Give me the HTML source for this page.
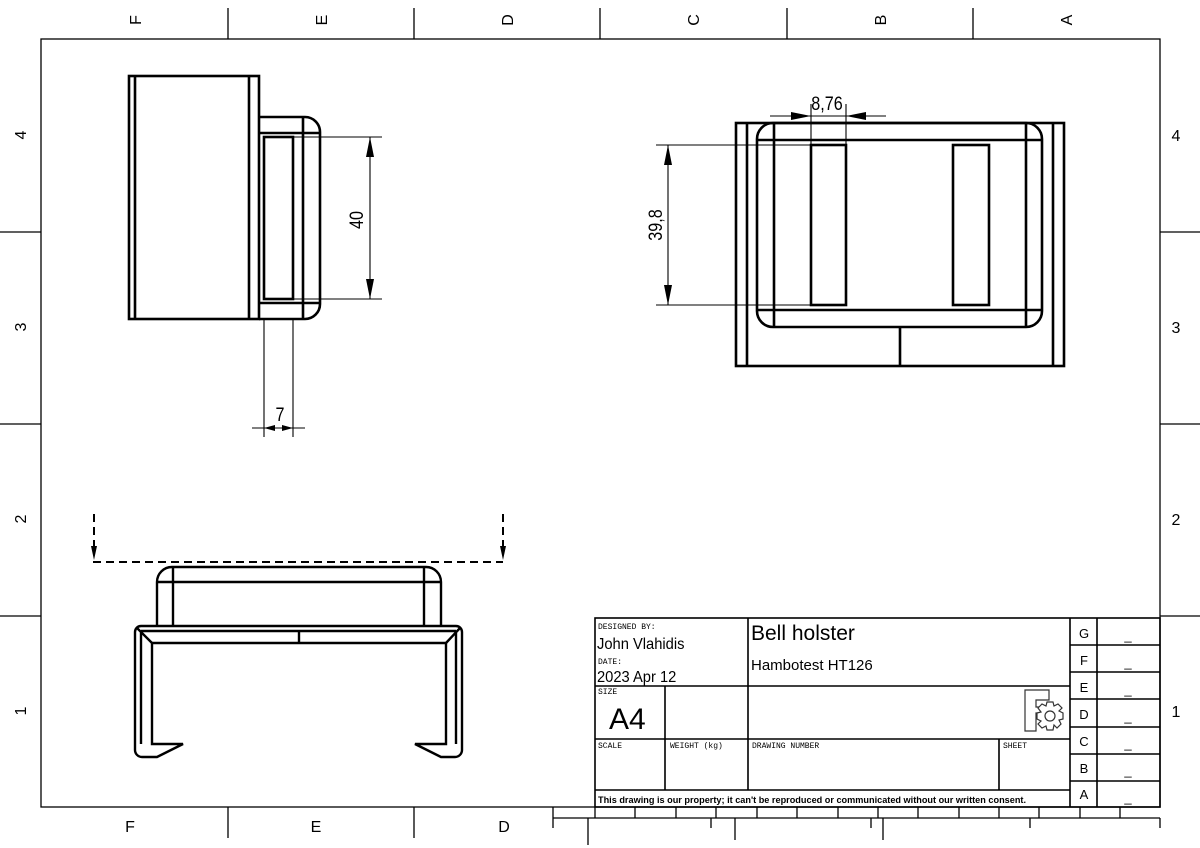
<!DOCTYPE html>
<html><head><meta charset="utf-8"><style>
html,body{margin:0;padding:0;background:#fff;}
svg{display:block;}
text{font-family:"Liberation Sans",sans-serif;fill:#000;}
.m{font-family:"Liberation Mono",monospace;font-size:8px;}
</style></head><body>
<svg width="1200" height="848" viewBox="0 0 1200 848" xmlns="http://www.w3.org/2000/svg">
<g stroke="#000" fill="none" stroke-width="1.3">
<rect x="41" y="39" width="1119" height="768"/>
<path d="M228 8V39M414 8V39M600 8V39M787 8V39M973 8V39"/>
<path d="M228 807V838M414 807V838"/>
<path d="M0 232H41M0 424H41M0 616H41"/>
<path d="M1160 232H1200M1160 424H1200M1160 616H1200"/>
<path d="M553 807V818H1160M553 818V828M588 818V845M711 818V828M735 818V840M871 818V828M883 818V840M1030 818V828M1160 818V828"/>
<path d="M595 807V818M635 807V818M676 807V818M716 807V818M757 807V818M797 807V818M838 807V818M878 807V818M918 807V818M959 807V818M999 807V818M1039 807V818M1080 807V818M1120 807V818"/>
</g>
<g font-size="16">
<text transform="translate(135,20) rotate(-90)" text-anchor="middle" dy="6">F</text>
<text transform="translate(321,20) rotate(-90)" text-anchor="middle" dy="6">E</text>
<text transform="translate(507,20) rotate(-90)" text-anchor="middle" dy="6">D</text>
<text transform="translate(693,20) rotate(-90)" text-anchor="middle" dy="6">C</text>
<text transform="translate(880,20) rotate(-90)" text-anchor="middle" dy="6">B</text>
<text transform="translate(1066,20) rotate(-90)" text-anchor="middle" dy="6">A</text>
<text transform="translate(20,135) rotate(-90)" text-anchor="middle" dy="6">4</text>
<text transform="translate(20,327) rotate(-90)" text-anchor="middle" dy="6">3</text>
<text transform="translate(20,519) rotate(-90)" text-anchor="middle" dy="6">2</text>
<text transform="translate(20,711) rotate(-90)" text-anchor="middle" dy="6">1</text>
<text x="1176" y="141" text-anchor="middle">4</text>
<text x="1176" y="333" text-anchor="middle">3</text>
<text x="1176" y="525" text-anchor="middle">2</text>
<text x="1176" y="717" text-anchor="middle">1</text>
<text x="130" y="832" text-anchor="middle">F</text>
<text x="316" y="832" text-anchor="middle">E</text>
<text x="504" y="832" text-anchor="middle">D</text>
</g>

<g stroke="#000" fill="none" stroke-width="2.6">
<rect x="129" y="76" width="130" height="243"/>
<path d="M135 76V319M249 76V319"/>
<path d="M259 117H305A15 15 0 0 1 320 132V304A15 15 0 0 1 305 319H259"/>
<path d="M259 133H320M259 303H320M303 117V319"/>
<rect x="264" y="137" width="29" height="162"/>
</g>
<g stroke="#000" fill="none" stroke-width="1.1">
<path d="M293 137H382M293 299H382M370 137V299"/>
<path d="M264 319V437M293 319V437M252 428H305"/>
</g>
<path d="M370 137L366 157H374Z M370 299L366 279H374Z" fill="#000"/>
<path d="M264 428L275 425V431Z M293 428L282 425V431Z" fill="#000"/>
<text transform="translate(363,220) rotate(-90) scale(0.85,1)" text-anchor="middle" font-size="19">40</text>
<text transform="translate(280,421) scale(0.85,1)" text-anchor="middle" font-size="19">7</text>

<g stroke="#000" fill="none" stroke-width="2.6">
<rect x="736" y="123" width="328" height="243"/>
<path d="M747 123V366M1053 123V366"/>
<rect x="757" y="123" width="285" height="204" rx="16"/>
<path d="M757 140H1042M757 310H1042M774 123V327M1026 123V327M900 327V366"/>
<rect x="811" y="145" width="35" height="160"/>
<rect x="953" y="145" width="36" height="160"/>
</g>
<g stroke="#000" fill="none" stroke-width="1.1">
<path d="M656 145H811M656 305H811M668 145V305"/>
<path d="M811 145V104M846 145V104M770 116H886"/>
</g>
<path d="M668 145L664 165H672Z M668 305L664 285H672Z" fill="#000"/>
<path d="M811 116L791 112V120Z M846 116L866 112V120Z" fill="#000"/>
<text transform="translate(662,225) rotate(-90) scale(0.85,1)" text-anchor="middle" font-size="19">39,8</text>
<text transform="translate(827,110) scale(0.85,1)" text-anchor="middle" font-size="19">8,76</text>

<g stroke="#000" fill="none" stroke-width="2">
<path d="M93 562H503" stroke-dasharray="8,5"/>
<path d="M94 514V552M503 514V552" stroke-dasharray="8,5"/>
</g>
<path d="M94 560L91 546H97Z M503 560L500 546H506Z" fill="#000"/>
<g stroke="#000" fill="none" stroke-width="2.4">
<path d="M157 626V582A15 15 0 0 1 172 567H426A15 15 0 0 1 441 582V626"/>
<path d="M157 582H441M173 567V626M424 567V626"/>
<path d="M141 626H456A6 6 0 0 1 462 632V750A7 7 0 0 1 455 757H441L415 744H446V643H152V744H183L157 757H142A7 7 0 0 1 135 750V632A6 6 0 0 1 141 626Z"/>
<path d="M141 631H456M137 628L152 643M460 628L446 643M141 631V744M456 631V744M299 631V643"/>
</g>

<g stroke="#000" fill="none" stroke-width="1.6">
<rect x="595" y="618" width="565" height="189"/>
<path d="M595 686H1070M595 739H1070M595 790H1070"/>
<path d="M665 686V790M748 618V790M999 739V790M1070 618V807M1097 618V807"/>
<path d="M1070 645H1160M1070 672H1160M1070 699H1160M1070 727H1160M1070 754H1160M1070 781H1160"/>
</g>
<text class="m" x="598" y="629">DESIGNED BY:</text>
<text x="597" y="649" font-size="16" transform="translate(597,0) scale(0.92,1) translate(-597,0)">John Vlahidis</text>
<text class="m" x="598" y="664">DATE:</text>
<text x="597" y="682" font-size="16" transform="translate(597,0) scale(0.92,1) translate(-597,0)">2023 Apr 12</text>
<text class="m" x="598" y="694">SIZE</text>
<text x="609" y="729" font-size="30">A4</text>
<text class="m" x="598" y="748">SCALE</text>
<text class="m" x="670" y="748">WEIGHT (kg)</text>
<text class="m" x="752" y="748">DRAWING NUMBER</text>
<text class="m" x="1003" y="748">SHEET</text>
<text x="751" y="640" font-size="21">Bell holster</text>
<text x="751" y="670" font-size="15">Hambotest HT126</text>
<text x="598" y="803" font-size="9.5" font-weight="bold" textLength="428" lengthAdjust="spacingAndGlyphs">This drawing is our property; it can't be reproduced or communicated without our written consent.</text>
<g font-size="13" text-anchor="middle">
<text x="1084" y="638">G</text><text x="1084" y="665">F</text><text x="1084" y="692">E</text><text x="1084" y="719">D</text><text x="1084" y="746">C</text><text x="1084" y="773">B</text><text x="1084" y="799">A</text>
<text x="1128" y="640">_</text><text x="1128" y="667">_</text><text x="1128" y="694">_</text><text x="1128" y="721">_</text><text x="1128" y="748">_</text><text x="1128" y="775">_</text><text x="1128" y="802">_</text>
</g>
<g stroke="#333" fill="none" stroke-width="1.2">
<path d="M1025 690H1049V700H1036V707H1043V713H1036V731H1025Z"/>
<path d="M1047 702L1053 702L1054 706L1058 704L1062 708L1059 711L1063 713L1063 719L1059 720L1061 724L1057 728L1054 725L1053 730L1047 730L1046 726L1042 728L1038 724L1041 721L1037 719L1037 713L1041 712L1038 708L1042 704L1046 706Z" fill="#fff"/>
<circle cx="1050" cy="716" r="5"/>
</g>
</svg>
</body></html>
